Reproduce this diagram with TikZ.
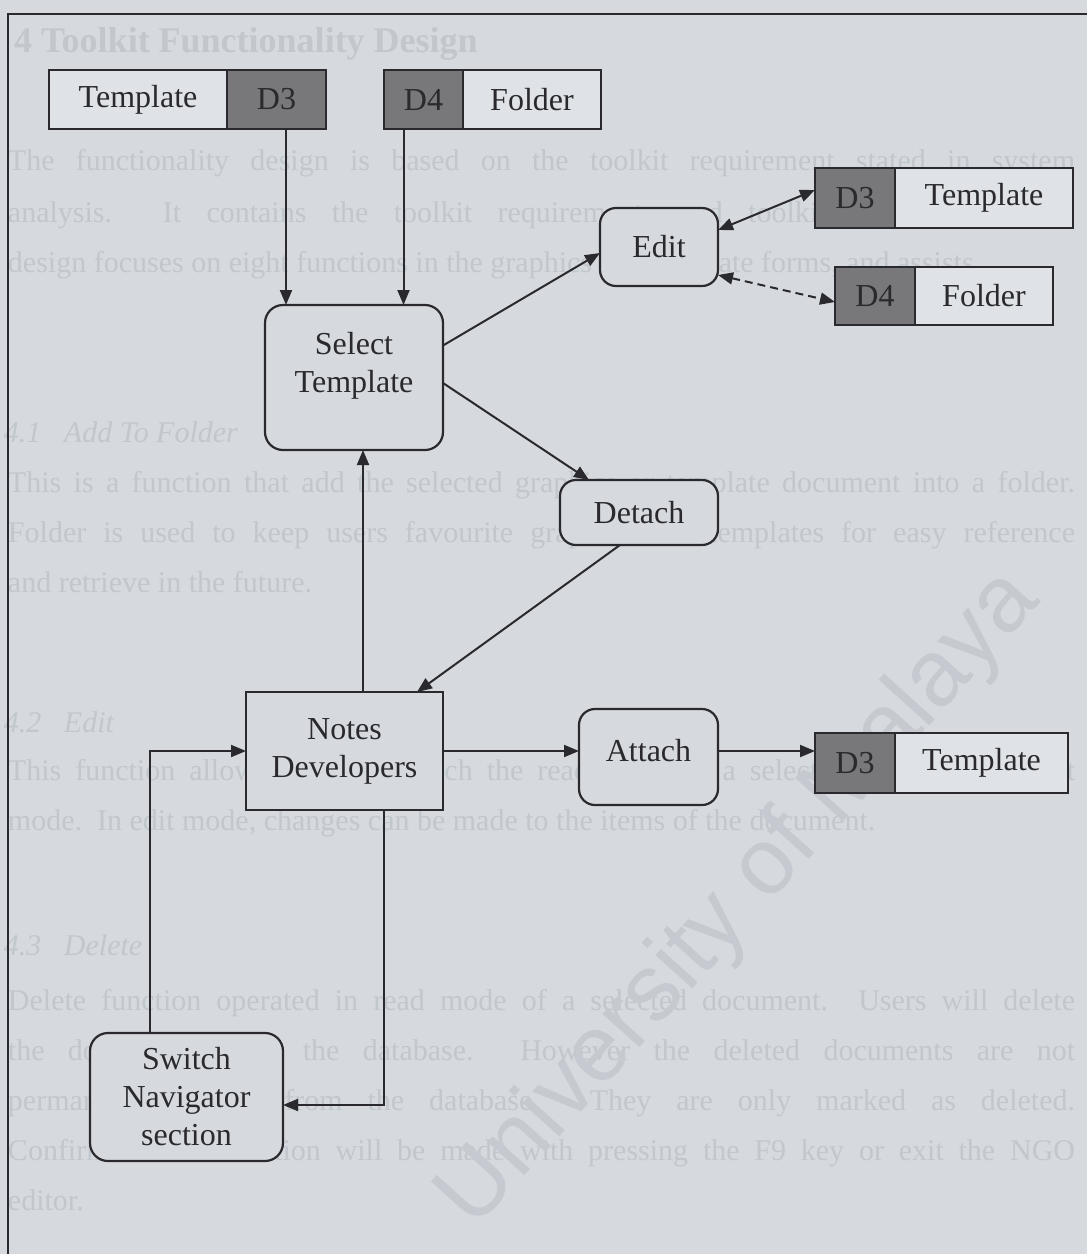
\documentclass[tikz,border=0pt]{standalone}
\usepackage{fontspec}
\setmainfont{Liberation Serif}
\newfontfamily\marksans{Liberation Sans}
\usetikzlibrary{arrows.meta}

\definecolor{paper}{RGB}{214,218,223}
\definecolor{ink}{RGB}{42,42,46}
\definecolor{ghost}{RGB}{194,199,205}
\definecolor{mark}{RGB}{198,202,208}
\definecolor{storefill}{RGB}{223,226,230}
\definecolor{shade}{RGB}{120,120,122}

\begin{document}
\begin{tikzpicture}[x=1pt,y=-1pt,
  every node/.style={inner sep=0pt, outer sep=0pt},
  proc/.style={draw=ink, line width=2.2pt, rounded corners=16pt, fill=paper,
    text=ink, font=\fontsize{32}{38}\selectfont, align=center, anchor=north west},
  entity/.style={proc, rounded corners=0pt},
  storename/.style={draw=ink, line width=2.2pt, fill=storefill, text=ink,
    font=\fontsize{32}{38}\selectfont, anchor=north west},
  storeid/.style={storename, fill=shade},
  flow/.style={draw=ink, line width=2pt, -{Triangle[length=15pt,width=12pt]}},
  twoway/.style={flow, {Triangle[length=15pt,width=12pt]}-{Triangle[length=15pt,width=12pt]}},
  faint/.style={anchor=base west, text=ghost, font=\fontsize{30}{36}\selectfont},
  fainthead/.style={faint, font=\fontsize{30}{36}\selectfont\itshape},
]

% page
\useasboundingbox (0,0) rectangle (1087,1254);
\clip (0,0) rectangle (1087,1254);
\fill[paper] (0,0) rectangle (1087,1254);

% text of the page behind the chart
\node[faint, font=\fontsize{36}{40}\selectfont\bfseries] (h0) at (14,52) {4 Toolkit Functionality Design};
\node[faint] (p1) at (8,170) {\makebox[1067pt][s]{The functionality design is based on the toolkit requirement stated in system}};
\node[faint] (p2) at (8,222) {\makebox[1067pt][s]{analysis.\ \ It contains the toolkit requirements and toolkit functions.\ \ This}};
\node[faint] (p3) at (8,272) {design focuses on eight functions in the graphics and template forms, and assists};
\node[fainthead] (h1) at (4,442) {4.1\ \ \ Add To Folder};
\node[faint] (p4) at (8,492) {\makebox[1067pt][s]{This is a function that add the selected graphics or template document into a folder.}};
\node[faint] (p5) at (8,542) {\makebox[1067pt][s]{Folder is used to keep users favourite graphics and templates for easy reference}};
\node[faint] (p6) at (8,592) {and retrieve in the future.};
\node[fainthead] (h2) at (4,732) {4.2\ \ \ Edit};
\node[faint] (p7) at (8,780) {\makebox[1067pt][s]{This function allows users to switch the read mode of a selected document to edit}};
\node[faint] (p8) at (8,830) {mode.\ \ In edit mode, changes can be made to the items of the document.};
\node[fainthead] (h3) at (4,955) {4.3\ \ \ Delete};
\node[faint] (p9) at (8,1010) {\makebox[1067pt][s]{Delete function operated in read mode of a selected document.\ \ Users will delete}};
\node[faint] (p10) at (8,1060) {\makebox[1067pt][s]{the documents from the database.\ \ However the deleted documents are not}};
\node[faint] (p11) at (8,1110) {\makebox[1067pt][s]{permanently erased from the database.\ \ They are only marked as deleted.}};
\node[faint] (p12) at (8,1160) {\makebox[1067pt][s]{Confirmation of deletion will be made with pressing the F9 key or exit the NGO}};
\node[faint] (p13) at (8,1210) {editor.};

% watermark
\node[rotate=48, text=mark, font=\marksans\fontsize{94}{94}\selectfont] (wm) at (740,900) {University of Malaya};

% frame
\draw[ink, line width=2.5pt] (1087,14) -- (8,14) -- (8,1254);

% data stores
\node[storename, minimum width=178pt, minimum height=59pt] (s1t) at (49,70) {Template};
\node[storeid, minimum width=99pt, minimum height=59pt] (s1d) at (227,70) {D3};
\node[storeid, minimum width=79pt, minimum height=59pt] (s2d) at (384,70) {D4};
\node[storename, minimum width=138pt, minimum height=59pt] (s2t) at (463,70) {Folder};

\node[storeid, minimum width=80pt, minimum height=60pt] (s3d) at (815,168) {D3};
\node[storename, minimum width=178pt, minimum height=60pt] (s3t) at (895,168) {Template};
\node[storeid, minimum width=80pt, minimum height=58pt] (s4d) at (835,267) {D4};
\node[storename, minimum width=138pt, minimum height=58pt] (s4t) at (915,267) {Folder};

\node[storeid, minimum width=80pt, minimum height=60pt] (s5d) at (815,733) {D3};
\node[storename, minimum width=173pt, minimum height=60pt] (s5t) at (895,733) {Template};

% processes
\node[proc, minimum width=118pt, minimum height=78pt] (edit) at (600,208) {Edit};
\node[proc, rounded corners=18pt, minimum width=178pt, minimum height=145pt, text depth=30pt] (sel) at (265,305) {Select\\Template};
\node[proc, minimum width=158pt, minimum height=65pt] (detach) at (560,480) {Detach};
\node[entity, minimum width=197pt, minimum height=118pt] (notes) at (246,692) {Notes\\Developers};
\node[proc, minimum width=139pt, minimum height=96pt, text depth=14pt] (attach) at (579,709) {Attach};
\node[proc, rounded corners=18pt, minimum width=193pt, minimum height=128pt] (switch) at (90,1033) {Switch\\Navigator\\section};

% flows
\draw[flow] ([xshift=9.5pt]s1d.south) -- ([xshift=9.5pt]s1d.south |- sel.north);
\draw[flow] ([xshift=-20pt]s2d.south) -- ([xshift=-20pt]s2d.south |- sel.north);
\draw[flow] ([yshift=32pt]sel.east) -- ([yshift=-6pt]edit.west);
\draw[twoway] ([yshift=17pt]edit.east) -- ([yshift=8pt]s3d.west);
\draw[twoway, dash pattern=on 8pt off 5pt] ([yshift=-28pt]edit.east) -- ([yshift=-6pt]s4d.west);
\draw[flow] ([yshift=-5.5pt]sel.east) -- ([xshift=-50pt]detach.north);
\draw[flow] ([xshift=-19pt]detach.south) -- ([xshift=72.5pt]notes.north);
\draw[flow] ([xshift=18.5pt]notes.north) -- ([xshift=18.5pt]notes.north |- sel.south);
\draw[flow] (notes.east) -- (notes.east -| attach.west);
\draw[flow] (notes.east -| attach.east) -- (notes.east -| s5d.west);
\draw[flow] ([xshift=39.5pt]notes.south) |- ([yshift=-8pt]switch.east);
\draw[flow] ([xshift=-36.5pt]switch.north) |- (notes.west);

\end{tikzpicture}
\end{document}
